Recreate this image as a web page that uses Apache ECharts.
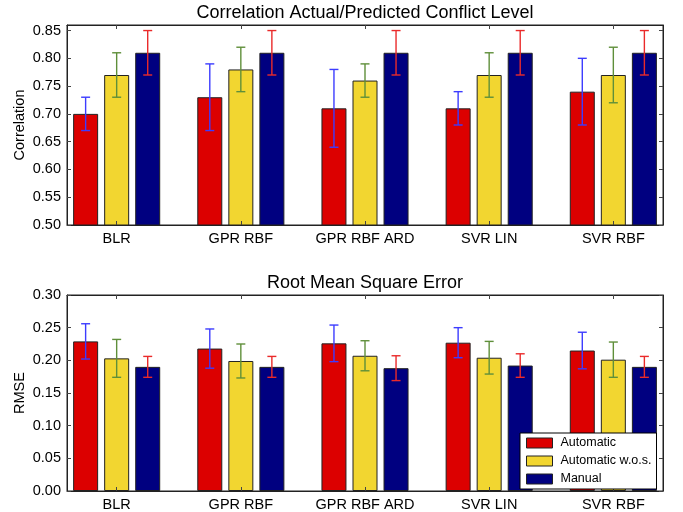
<!DOCTYPE html>
<html>
<head>
<meta charset="utf-8">
<script src="https://cdn.jsdelivr.net/npm/echarts@6/dist/echarts.min.js"></script>
<style>html,body{margin:0;padding:0;background:#fff}#c{width:683px;height:512px}</style>
</head>
<body>
<div id="c"></div>
<script>
// ---- data ----
const categories = ['BLR', 'GPR RBF', 'GPR RBF ARD', 'SVR LIN', 'SVR RBF'];
const seriesNames = ['Automatic', 'Automatic w.o.s.', 'Manual'];

const corrAutomatic    = [0.70, 0.73, 0.71, 0.71, 0.74];
const corrAutomaticErr = [0.03, 0.06, 0.07, 0.03, 0.06];
const corrWos          = [0.77, 0.78, 0.76, 0.77, 0.77];
const corrWosErr       = [0.04, 0.04, 0.03, 0.04, 0.05];
const corrManual       = [0.81, 0.81, 0.81, 0.81, 0.81];
const corrManualErr    = [0.04, 0.04, 0.04, 0.04, 0.04];

const rmseAutomatic    = [0.229, 0.218, 0.226, 0.227, 0.215];
const rmseAutomaticErr = [0.027, 0.030, 0.028, 0.023, 0.028];
const rmseWos          = [0.203, 0.199, 0.207, 0.204, 0.201];
const rmseWosErr       = [0.029, 0.026, 0.023, 0.025, 0.027];
const rmseManual       = [0.190, 0.190, 0.188, 0.192, 0.190];
const rmseManualErr    = [0.016, 0.016, 0.019, 0.018, 0.016];

const corrTicks = [0.50, 0.55, 0.60, 0.65, 0.70, 0.75, 0.80, 0.85];
const rmseTicks = [0.00, 0.05, 0.10, 0.15, 0.20, 0.25, 0.30];

// ---- styling ----
const FONT = "'Liberation Sans', Arial, Helvetica, sans-serif";
const barColors = ['#dc0000', '#f2d630', '#000080'];
const errColors = ['#3c3cff', '#5f8f3a', '#ea2a2a'];
const offsets = [-0.25, 0, 0.25];
const catIdx = categories.map((_, i) => i);

const chart = echarts.init(document.getElementById('c'), null, {renderer: 'canvas'});

function xAxisDef(gridIndex, position, showLabels) {
  return {
    type: 'value', gridIndex, position, min: -0.4, max: 4.4, z: 10,
    axisLine: {show: true, onZero: false, lineStyle: {color: '#222', width: 1}},
    axisTick: {show: true, inside: true, length: 4, customValues: catIdx, lineStyle: {color: '#444'}},
    axisLabel: {show: showLabels, customValues: catIdx, formatter: v => categories[Math.round(v)] || '',
      fontSize: 14.5, fontFamily: FONT, color: '#000', margin: 6},
    splitLine: {show: false}
  };
}
function yAxisDef(gridIndex, position, min, max, ticks, name) {
  const left = position === 'left';
  return {
    type: 'value', gridIndex, position, min, max, z: 10,
    axisLine: {show: true, onZero: false, lineStyle: {color: '#222', width: 1}},
    axisTick: {show: true, inside: true, length: 4, customValues: ticks, lineStyle: {color: '#444'}},
    axisLabel: {show: left, customValues: ticks, formatter: v => v.toFixed(2),
      fontSize: 14.5, fontFamily: FONT, color: '#000', margin: 6},
    splitLine: {show: false},
    name: left ? name : '', nameLocation: 'middle', nameGap: 40, nameMoveOverlap: false,
    nameTextStyle: {fontSize: 14.5, fontFamily: FONT, color: '#000'}
  };
}

function barSeries(g, s, vals) {
  return {
    type: 'bar', name: seriesNames[s], xAxisIndex: 2 * g, yAxisIndex: 2 * g,
    barWidth: 25, barGap: '-100%',
    data: vals.map((v, i) => [i + offsets[s], v]),
    itemStyle: {color: barColors[s], borderColor: '#222', borderWidth: 1},
    emphasis: {disabled: true}, silent: true, z: 2
  };
}
function errSeries(g, s, vals, errs) {
  return {
    type: 'custom', xAxisIndex: 2 * g, yAxisIndex: 2 * g, silent: true, z: 5,
    encode: {x: 0, y: [1, 2]},
    data: vals.map((v, i) => [i + offsets[s], v - errs[i], v + errs[i]]),
    renderItem: (params, api) => {
      const x = api.value(0);
      const lo = api.coord([x, api.value(1)]);
      const hi = api.coord([x, api.value(2)]);
      const cw = 4.5;
      const st = {stroke: errColors[s], lineWidth: 1.4};
      return {type: 'group', children: [
        {type: 'line', shape: {x1: lo[0], y1: lo[1], x2: hi[0], y2: hi[1]}, style: st},
        {type: 'line', shape: {x1: hi[0] - cw, y1: hi[1], x2: hi[0] + cw, y2: hi[1]}, style: st},
        {type: 'line', shape: {x1: lo[0] - cw, y1: lo[1], x2: lo[0] + cw, y2: lo[1]}, style: st}
      ]};
    }
  };
}

const corrData = [[corrAutomatic, corrAutomaticErr], [corrWos, corrWosErr], [corrManual, corrManualErr]];
const rmseData = [[rmseAutomatic, rmseAutomaticErr], [rmseWos, rmseWosErr], [rmseManual, rmseManualErr]];

const series = [];
[corrData, rmseData].forEach((set, g) => {
  set.forEach((d, s) => series.push(barSeries(g, s, d[0])));
  set.forEach((d, s) => series.push(errSeries(g, s, d[0], d[1])));
});

chart.setOption({
  animation: false,
  backgroundColor: '#fff',
  title: [
    {text: 'Correlation Actual/Predicted Conflict Level', left: 365, top: 4, textAlign: 'center', padding: 0,
      textStyle: {fontSize: 18, fontWeight: 'normal', fontFamily: FONT, color: '#000'}},
    {text: 'Root Mean Square Error', left: 365, top: 274, textAlign: 'center', padding: 0,
      textStyle: {fontSize: 18, fontWeight: 'normal', fontFamily: FONT, color: '#000'}}
  ],
  grid: [
    {left: 67, right: 20, top: 25, height: 200, show: true, borderColor: '#222', borderWidth: 1},
    {left: 67, right: 20, top: 295, height: 201, show: true, borderColor: '#222', borderWidth: 1}
  ],
  xAxis: [xAxisDef(0, 'bottom', true), xAxisDef(0, 'top', false), xAxisDef(1, 'bottom', true), xAxisDef(1, 'top', false)],
  yAxis: [
    yAxisDef(0, 'left', 0.5, 0.86, corrTicks, 'Correlation'),
    yAxisDef(0, 'right', 0.5, 0.86, corrTicks, ''),
    yAxisDef(1, 'left', 0, 0.3, rmseTicks, 'RMSE'),
    yAxisDef(1, 'right', 0, 0.3, rmseTicks, '')
  ],
  legend: {
    orient: 'vertical', left: 520, top: 433, z: 20,
    itemWidth: 26, itemHeight: 10, itemGap: 4,
    padding: [3, 5, 3, 6], backgroundColor: '#fff', borderColor: '#000', borderWidth: 1, borderRadius: 0,
    selectedMode: false,
    itemStyle: {borderColor: '#222', borderWidth: 1},
    textStyle: {fontSize: 12.5, fontFamily: FONT, color: '#000', lineHeight: 14, padding: [0, 0, 0, 3]},
    data: seriesNames.map(n => ({name: n, icon: 'rect'}))
  },
  series
});
</script>
</body>
</html>
